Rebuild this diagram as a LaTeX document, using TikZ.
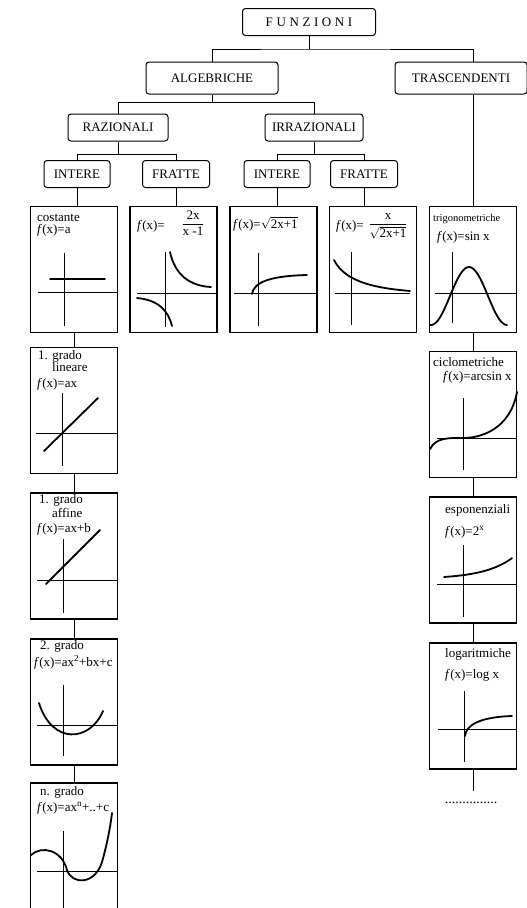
\documentclass[tikz,border=0pt]{standalone}
\usepackage{amsmath}
\usepackage{fontspec}
\setmainfont{Liberation Serif}
\newcommand{\fx}{\textit{f}(x)}

\begin{document}
\begin{tikzpicture}[x=1pt,y=-1pt,
	titolo/.style={draw, line width=1pt, rounded corners=3pt, inner sep=0pt, minimum height=27pt, font=\fontsize{13}{15}\selectfont},
	grafico/.style={draw, line width=1.1pt, inner sep=0pt, minimum width=87pt, minimum height=126pt},
	testo/.style={anchor=base west, inner sep=0pt, font=\fontsize{13}{15}\selectfont},
	asse/.style={line width=0.9pt},
	curva/.style={line width=1.8pt, line cap=round},
	linea/.style={line width=1pt}]
	%bounding box
	\useasboundingbox (0,0) rectangle (527,908);
	\clip (0,0) rectangle (527,908);
	%draw headings
	\node[titolo, minimum width=133pt] (fun) at (309,22) {F\hspace{3.6pt}U\hspace{3.6pt}N\hspace{3.6pt}Z\hspace{3.6pt}I\hspace{3.6pt}O\hspace{3.6pt}N\hspace{3.6pt}I};
	\node[titolo, minimum width=132pt, minimum height=32pt] (alg) at (212,78) {ALGEBRICHE};
	\node[titolo, minimum width=132pt, minimum height=32pt] (tra) at (461,78) {TRASCENDENTI};
	\node[titolo, minimum width=100pt] (raz) at (118,127.5) {RAZIONALI};
	\node[titolo, minimum width=98pt] (irr) at (314,127.5) {IRRAZIONALI};
	\node[titolo, minimum width=66pt] (int1) at (77,174) {INTERE};
	\node[titolo, minimum width=67pt] (fra1) at (176,174) {FRATTE};
	\node[titolo, minimum width=66pt] (int2) at (277,174) {INTERE};
	\node[titolo, minimum width=67pt] (fra2) at (364,174) {FRATTE};
	%draw graph boxes
	\node[grafico] (g1) at (74,269.5) {};
	\node[grafico] (g2) at (173.5,269.5) {};
	\node[grafico] (g3) at (273.5,269.5) {};
	\node[grafico] (g4) at (373,269.5) {};
	\node[grafico] (g5) at (473,269.5) {};
	\node[grafico] (lin) at (74,410.5) {};
	\node[grafico] (aff) at (74,556) {};
	\node[grafico] (qua) at (74,702) {};
	\node[grafico, minimum height=160pt] (pol) at (74,863) {};
	\node[grafico] (cic) at (473,414.5) {};
	\node[grafico] (esp) at (473,560) {};
	\node[grafico] (log) at (473,706) {};
	\node[testo, anchor=base, font=\fontsize{14}{16}\selectfont] (dots) at (471,803) {...............};
	%draw connectors
	\draw[linea] (fun.south) -- ++(0,13) coordinate (c0);
	\draw[linea] (alg.north) |- (c0) -| (tra.north -| g5.north);
	\draw[linea] (tra.south -| g5.north) -- (g5.north);
	\draw[linea] (alg.south) -- ++(0,8) coordinate (c1);
	\draw[linea] (raz.north) |- (c1) -| (irr.north);
	\draw[linea] (raz.south) -- ++(0,13) coordinate (c2);
	\draw[linea] (int1.north) |- (c2) -| (fra1.north);
	\draw[linea] (irr.south) -- ++(0,13) coordinate (c3);
	\draw[linea] (int2.north) |- (c3) -| (fra2.north);
	\foreach \a/\b in {int1/g1, fra1/g2, int2/g3, fra2/g4}
		\draw[linea] (\a.south) -- (\a.south |- \b.north);
	\foreach \a/\b in {g1/lin, lin/aff, aff/qua, qua/pol, g5/cic, cic/esp, esp/log}
		\draw[linea] (\a.south) -- (\b.north);
	\draw[linea] (log.south) -- ++(0,21) coordinate (c4);
	%costante
	\node[testo] at (37,221) {costante};
	\node[testo] at (37,233) {\fx=a};
	\draw[asse] (38,292) -- (117,292);
	\draw[asse] (64,253) -- (64,326);
	\draw[curva] (50,279) -- (105,279);
	%fratta razionale
	\node[testo] at (137,229) {\fx=};
	\node[testo, anchor=center] at (193,223) {$\dfrac{\text{2x}}{\text{x -1}}$};
	\draw[asse] (137,293) -- (217,293);
	\draw[asse] (165,252) -- (165,327);
	\draw[curva] (170,252) .. controls (175,275) and (190,286) .. (211,287);
	\draw[curva] (137,298) .. controls (158,300) and (168,310) .. (172,326);
	%intera irrazionale
	\node[testo] at (233,228) {\fx=$\sqrt{\text{2x+1}}$};
	\draw[asse] (234,293) -- (317,293);
	\draw[asse] (258,253) -- (258,326);
	\draw[curva] (252,294) .. controls (254,282) and (270,276) .. (307,275);
	%fratta irrazionale
	\node[testo] at (336,229) {\fx=};
	\node[testo, anchor=center] at (388,226) {$\dfrac{\text{x}}{\sqrt{\text{2x+1}}}$};
	\draw[asse] (335,293) -- (410,293);
	\draw[asse] (351,252) -- (351,325);
	\draw[curva] (334,260) .. controls (345,282) and (375,288) .. (410,291);
	%trigonometriche
	\node[testo, font=\fontsize{10.5}{12}\selectfont] at (433,221) {trigonometriche};
	\node[testo] at (437,240) {\fx=sin x};
	\draw[asse] (435,293) -- (517,293);
	\draw[asse] (452,252) -- (452,323);
	\draw[curva] plot[domain=430:507, samples=40, smooth] (\x, {296-29*cos((\x-469)/38*180)});
	%lineare
	\node[testo] at (38,359) {1. grado};
	\node[testo] at (52,371) {lineare};
	\node[testo] at (37,387) {\fx=ax};
	\draw[asse] (36,433) -- (117,433);
	\draw[asse] (62,393) -- (62,466);
	\draw[curva] (44,451) -- (98,398);
	%affine
	\node[testo] at (39,503) {1. grado};
	\node[testo] at (52,517) {affine};
	\node[testo] at (37,532) {\fx=ax+b};
	\draw[asse] (37,580) -- (117,580);
	\draw[asse] (63,539) -- (63,613);
	\draw[curva] (46,584) -- (100,530);
	%secondo grado
	\node[testo] at (40,649) {2. grado};
	\node[testo] at (34,666) {\fx=ax\textsuperscript{2}+bx+c};
	\draw[asse] (37,725) -- (117,725);
	\draw[asse] (63,685) -- (63,756);
	\draw[curva] (39,703) .. controls (52,745) and (90,742) .. (103,711);
	%grado n
	\node[testo] at (40,795) {n. grado};
	\node[testo] at (37,811) {\fx=ax\textsuperscript{n}+..+c};
	\draw[asse] (37,871) -- (117,871);
	\draw[asse] (63,831) -- (63,908);
	\draw[curva] (31,855) .. controls (42,845) and (62,850) .. (67,870) .. controls (72,885) and (95,885) .. (102,862) .. controls (106,848) and (110,830) .. (112,813);
	%ciclometriche
	\node[testo] at (433,366) {ciclometriche};
	\node[testo] at (443,380) {\fx=arcsin x};
	\draw[asse] (437,438) -- (517,438);
	\draw[asse] (463,398) -- (463,470);
	\draw[curva] (430,449) .. controls (436,437) and (450,438) .. (463,438) .. controls (480,438) and (510,430) .. (517,392);
	%esponenziali
	\node[testo] at (445,513) {esponenziali};
	\node[testo] at (445,535) {\fx=2\textsuperscript{x}};
	\draw[asse] (437,584) -- (517,584);
	\draw[asse] (463,545) -- (463,617);
	\draw[curva] plot[domain=444:512, samples=30, smooth] (\x, {579-2*exp((\x-444)/29)});
	%logaritmiche
	\node[testo] at (445,657) {logaritmiche};
	\node[testo] at (445,678) {\fx=log x};
	\draw[asse] (438,729) -- (517,729);
	\draw[asse] (464,691) -- (464,762);
	\draw[curva] (465,736) .. controls (466,725) and (480,717) .. (512,716);
\end{tikzpicture}
\end{document}
